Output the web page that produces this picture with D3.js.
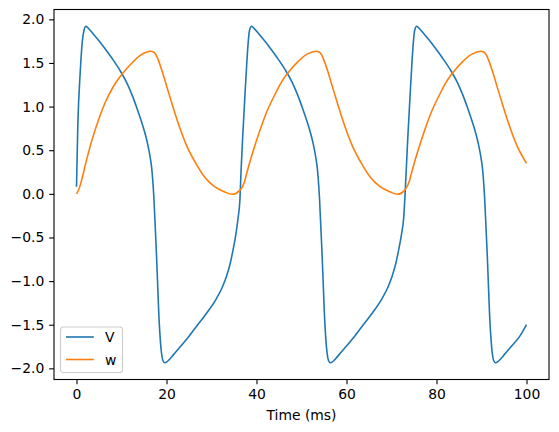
<!DOCTYPE html>
<html>
<head>
<meta charset="utf-8">
<script src="https://cdn.jsdelivr.net/npm/d3@7"></script>
<style>
  body { margin: 0; background: #fff; }
  svg { display: block; font-family: 'DejaVu Sans', sans-serif; }
</style>
</head>
<body>
<svg id="chart" width="559" height="432"></svg>
<script>
// values (time in ms)
const vTime = [
  0.0, 0.3, 0.8, 1.3, 1.7, 2.1,
  2.6, 3.6, 4.9, 6.1, 7.8, 9.6, 11.1, 11.8, 12.6, 13.3, 14.1, 14.8, 15.4, 15.9, 16.4, 16.7,
  17.2, 17.8, 18.4, 18.9, 19.2, 19.6,
  20.1, 20.7, 21.6, 23.1, 25.1, 27.1, 29.1, 31.1, 32.4, 33.3, 34.1, 34.8, 35.4, 35.9, 36.3,
  36.6, 36.9, 37.4, 37.9, 38.3, 38.6, 38.9,
  39.4, 40.4, 41.7, 42.9, 44.6, 46.4, 47.9, 48.6, 49.4, 50.1, 50.9, 51.6, 52.2, 52.7, 53.2, 53.5,
  54.0, 54.6, 55.2, 55.7, 56.0, 56.4,
  56.9, 57.5, 58.4, 59.9, 61.9, 63.9, 65.9, 67.9, 69.2, 70.1, 70.9, 71.6, 72.2, 72.7,
  73.3, 73.6, 74.1, 74.6, 75.0, 75.3, 75.6,
  76.1, 77.1, 78.4, 79.6, 81.3, 83.1, 84.6, 85.3, 86.1, 86.8, 87.6, 88.3, 88.9, 89.4, 89.9, 90.2,
  90.7, 91.3, 91.9, 92.4, 92.7, 93.1,
  93.6, 94.2, 95.1, 96.6, 98.6, 100.0
];
const vValues = [
  0.08, 0.80, 1.37, 1.75, 1.88, 1.92,
  1.90, 1.84, 1.76, 1.68, 1.56, 1.42, 1.28, 1.20, 1.10, 1.00, 0.88, 0.77, 0.66, 0.55, 0.41, 0.30,
  -0.05, -0.73, -1.49, -1.83, -1.91, -1.935,
  -1.925, -1.895, -1.84, -1.75, -1.625, -1.49, -1.355, -1.20, -1.07, -0.95, -0.81, -0.64, -0.47, -0.28, -0.08,
  0.30, 0.62, 1.10, 1.55, 1.82, 1.90, 1.92,
  1.90, 1.84, 1.76, 1.68, 1.56, 1.42, 1.28, 1.20, 1.10, 1.00, 0.88, 0.77, 0.66, 0.55, 0.41, 0.30,
  -0.05, -0.73, -1.49, -1.83, -1.91, -1.935,
  -1.925, -1.895, -1.84, -1.75, -1.625, -1.49, -1.355, -1.20, -1.07, -0.95, -0.81, -0.64, -0.47, -0.28,
  0.30, 0.62, 1.10, 1.55, 1.82, 1.90, 1.92,
  1.90, 1.84, 1.76, 1.68, 1.56, 1.42, 1.28, 1.20, 1.10, 1.00, 0.88, 0.77, 0.66, 0.55, 0.41, 0.30,
  -0.05, -0.73, -1.49, -1.83, -1.91, -1.935,
  -1.925, -1.895, -1.84, -1.75, -1.625, -1.50
];

const wTime = [
  0.0, 0.5, 1.0, 1.5, 1.9, 2.6, 3.4, 4.9, 6.4, 8.2, 10.1, 12.3, 14.1, 15.6, 16.4, 17.1,
  17.7, 18.2, 19.0, 20.0, 20.7, 22.6, 24.5, 26.4, 28.5, 30.6, 32.8, 34.6, 36.3,
  37.4, 37.8, 40.0, 42.2, 44.4, 45.2, 47.2, 49.1, 50.9, 52.4, 53.2, 53.9,
  54.5, 55.0, 55.8, 56.8, 57.5, 59.4, 61.3, 63.2, 65.3, 67.4, 69.6, 71.4, 72.9,
  74.0, 74.4, 76.6, 78.8, 81.0, 81.8, 83.8, 85.7, 87.5, 89.0, 89.8, 90.5,
  91.1, 91.6, 92.4, 93.4, 94.1, 96.0, 97.9, 100.0
];
const wValues = [
  0.00, 0.05, 0.13, 0.23, 0.32, 0.46, 0.61, 0.85, 1.05, 1.23, 1.37, 1.50, 1.585, 1.625, 1.635, 1.625,
  1.59, 1.53, 1.41, 1.24, 1.12, 0.81, 0.55, 0.36, 0.19, 0.085, 0.025, -0.005, 0.04,
  0.15, 0.23, 0.61, 0.93, 1.17, 1.25, 1.40, 1.51, 1.59, 1.625, 1.635, 1.625,
  1.59, 1.53, 1.41, 1.24, 1.12, 0.81, 0.55, 0.36, 0.19, 0.085, 0.025, -0.005, 0.04,
  0.15, 0.23, 0.61, 0.93, 1.17, 1.25, 1.40, 1.51, 1.59, 1.625, 1.635, 1.625,
  1.59, 1.53, 1.41, 1.24, 1.12, 0.81, 0.55, 0.35
];

const xTicks = [0, 20, 40, 60, 80, 100];
const yTicks = [-2.0, -1.5, -1.0, -0.5, 0.0, 0.5, 1.0, 1.5, 2.0];
const seriesNames = ['V', 'w'];
const seriesColors = ['#1f77b4', '#ff7f0e'];
const xLabel = 'Time (ms)';

// plot box, matplotlib-like
const box = { left: 54, right: 549, top: 9.5, bottom: 379.5 };
const fontSize = 13.9;
const tick = 4.86;

const svg = d3.select('#chart');

// matplotlib pads the data range by 5% on each side
function padded(lo, hi) {
  var m = (hi - lo) * 0.05;
  return [lo - m, hi + m];
}

const x = d3.scaleLinear()
  .domain(padded(d3.min(vTime), d3.max(vTime)))
  .range([box.left, box.right]);
const allY = vValues.concat(wValues);
const y = d3.scaleLinear()
  .domain(padded(d3.min(allY), d3.max(allY)))
  .range([box.bottom, box.top]);

const series = [
  vTime.map(function(t, i) { return [t, vValues[i]]; }),
  wTime.map(function(t, i) { return [t, wValues[i]]; }),
];

const line = d3.line()
  .x(function(d) { return x(d[0]); })
  .y(function(d) { return y(d[1]); })
  .curve(d3.curveMonotoneX);

const plot = svg.append('g');
plot.append('defs').append('clipPath').attr('id', 'clip')
  .append('rect')
  .attr('x', box.left).attr('y', box.top)
  .attr('width', box.right - box.left).attr('height', box.bottom - box.top);

plot.selectAll('path.series')
  .data(series)
  .enter().append('path')
  .attr('class', 'series')
  .attr('clip-path', 'url(#clip)')
  .attr('d', line)
  .attr('fill', 'none')
  .attr('stroke', function(d, i) { return seriesColors[i]; })
  .attr('stroke-width', 1.6)
  .attr('stroke-linejoin', 'round')
  .attr('stroke-linecap', 'butt');

// axes
const fmt = d3.format('.1f');
const xAxis = svg.append('g')
  .attr('transform', 'translate(0,' + box.bottom + ')')
  .call(d3.axisBottom(x).tickValues(xTicks).tickSize(tick).tickPadding(4.5).tickFormat(d3.format('d')));
const yAxis = svg.append('g')
  .attr('transform', 'translate(' + box.left + ',0)')
  .call(d3.axisLeft(y).tickValues(yTicks).tickSize(tick).tickPadding(4.86).tickFormat(fmt));

[xAxis, yAxis].forEach(function(a) {
  a.select('.domain').remove();
  a.selectAll('line').attr('stroke', '#000').attr('stroke-width', 1.1);
  a.selectAll('text')
    .attr('fill', '#000')
    .style('font-size', fontSize + 'px')
    .style('font-family', "'DejaVu Sans', sans-serif");
});

// frame
svg.append('rect')
  .attr('x', box.left).attr('y', box.top)
  .attr('width', box.right - box.left).attr('height', box.bottom - box.top)
  .attr('fill', 'none').attr('stroke', '#000').attr('stroke-width', 1.1);

svg.append('text')
  .attr('x', (box.left + box.right) / 2)
  .attr('y', 420)
  .attr('text-anchor', 'middle')
  .style('font-size', fontSize + 'px')
  .text(xLabel);

// legend, lower left
const legend = svg.append('g').attr('transform', 'translate(60.5,327)');
legend.append('rect')
  .attr('width', 62).attr('height', 45.5)
  .attr('rx', 2.8).attr('ry', 2.8)
  .attr('fill', '#fff').attr('fill-opacity', 0.8)
  .attr('stroke', '#cccccc').attr('stroke-width', 1.1);

const item = legend.selectAll('g.item')
  .data(seriesNames)
  .enter().append('g')
  .attr('class', 'item')
  .attr('transform', function(d, i) { return 'translate(0,' + (10 + i * 22.5) + ')'; });
item.append('line')
  .attr('x1', 5.5).attr('x2', 33.3)
  .attr('stroke', function(d, i) { return seriesColors[i]; })
  .attr('stroke-width', 1.6);
item.append('text')
  .attr('x', 44.4)
  .attr('dy', '0.36em')
  .style('font-size', fontSize + 'px')
  .text(function(d) { return d; });
</script>
</body>
</html>
